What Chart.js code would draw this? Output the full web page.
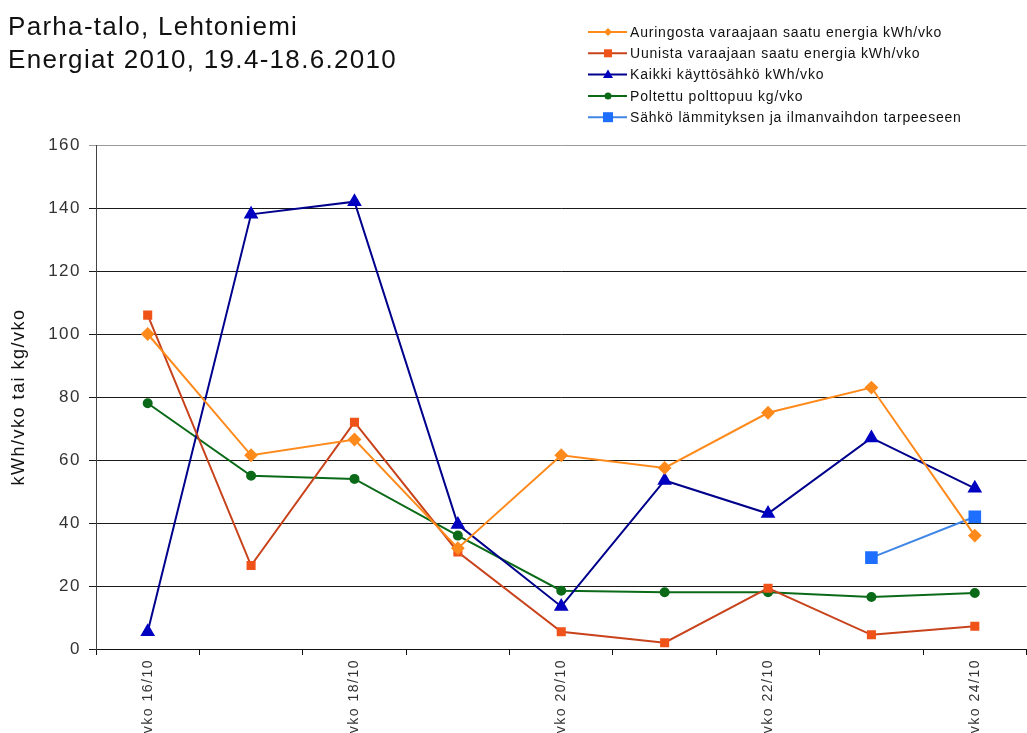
<!DOCTYPE html>
<html>
<head>
<meta charset="utf-8">
<script src="https://cdn.jsdelivr.net/npm/chart.js@4.4.1/dist/chart.umd.min.js"></script>
<style>
  html, body { margin: 0; padding: 0; background: #fff; overflow: hidden; }
  #wrap { position: absolute; left: 0; top: 0; width: 1036px; height: 733px; }
</style>
</head>
<body>
<div id="wrap"><canvas id="energiat" width="1036" height="733"></canvas></div>
<script>
// viikot (joka toinen nimi näkyy akselilla)
const viikot = ['vko 16/10', 'vko 17/10', 'vko 18/10', 'vko 19/10', 'vko 20/10',
                'vko 21/10', 'vko 22/10', 'vko 23/10', 'vko 24/10'];
const aurinko = [100, 61.5, 66.5, 32, 61.5, 57.5, 75, 83, 36];
const uuni = [106, 26.5, 72, 30.8, 5.5, 2, 19.3, 4.5, 7.2];
const kaikkiSahko = [5.5, 138, 142, 39.5, 13.5, 53.5, 43, 67, 51];
const polttopuu = [78, 55, 54, 36, 18.5, 18, 18, 16.5, 17.8];
const lammitysSahko = [null, null, null, null, null, null, null, 29, 42];
const yTicks = [0, 20, 40, 60, 80, 100, 120, 140, 160];

const otsikko = ['Parha-talo, Lehtoniemi', 'Energiat 2010, 19.4-18.6.2010'];

function sarja(nimi, arvot, viiva, pallo, tyyli, koko) {
    return {
        label: nimi,
        data: arvot,
        borderColor: viiva,
        backgroundColor: pallo,
        pointBackgroundColor: pallo,
        pointBorderColor: pallo,
        pointStyle: tyyli,
        pointRadius: koko,
        pointHoverRadius: koko,
        borderWidth: 2,
        tension: 0,
        spanGaps: false
    };
}

// merkki legendaan
function merkki(ctx, tyyli, x, y, r) {
    ctx.beginPath();
    if (tyyli === 'rect') {
        ctx.rect(x - r, y - r, 2 * r, 2 * r);
    } else if (tyyli === 'rectRot') {
        ctx.moveTo(x, y - r); ctx.lineTo(x + r, y); ctx.lineTo(x, y + r); ctx.lineTo(x - r, y);
        ctx.closePath();
    } else if (tyyli === 'triangle') {
        ctx.moveTo(x, y - r); ctx.lineTo(x + r, y + r * 0.7); ctx.lineTo(x - r, y + r * 0.7);
        ctx.closePath();
    } else {
        ctx.arc(x, y, r, 0, Math.PI * 2);
    }
    ctx.fill();
}

const kirjainvali = {
    id: 'kirjainvali',
    beforeLayout(chart) { chart.ctx.letterSpacing = '1.5px'; },
    beforeDraw(chart) { chart.ctx.letterSpacing = '1.5px'; }
};

const otsikkoJaLegenda = {
    id: 'otsikkoJaLegenda',
    afterDraw(chart) {
        const ctx = chart.ctx;
        ctx.save();
        ctx.letterSpacing = '1.3px';
        ctx.fillStyle = '#111';
        ctx.textAlign = 'left';
        ctx.textBaseline = 'alphabetic';
        ctx.font = '26px "Liberation Sans", Arial, sans-serif';
        ctx.fillText(otsikko[0], 8, 35);
        ctx.fillText(otsikko[1], 8, 68);

        ctx.letterSpacing = '0.8px';
        ctx.font = '14px "Liberation Sans", Arial, sans-serif';
        ctx.textBaseline = 'middle';
        const koot = [4, 4, 5, 3.5, 5];
        chart.data.datasets.forEach((ds, i) => {
            const y = 32 + i * 21.3;
            ctx.strokeStyle = ds.borderColor;
            ctx.lineWidth = 2;
            ctx.beginPath();
            ctx.moveTo(588, y);
            ctx.lineTo(627, y);
            ctx.stroke();
            ctx.fillStyle = ds.pointBackgroundColor;
            merkki(ctx, ds.pointStyle, 608, y, koot[i]);
            ctx.fillStyle = '#111';
            ctx.fillText(ds.label, 630, y + 1);
        });
        ctx.restore();
    }
};

const ctx = document.getElementById('energiat').getContext('2d');
const energiaChart = new Chart(ctx, {
    type: 'line',
    data: {
        labels: viikot,
        datasets: [
            sarja('Auringosta varaajaan saatu energia kWh/vko', aurinko, '#FF8A1C', '#FF8A1C', 'rectRot', 5.5),
            sarja('Uunista varaajaan saatu energia kWh/vko', uuni, '#C8431C', '#F0531A', 'rect', 5),
            sarja('Kaikki käyttösähkö kWh/vko', kaikkiSahko, '#00008C', '#0000C0', 'triangle', 6.5),
            sarja('Poltettu polttopuu kg/vko', polttopuu, '#0B6A18', '#0B6A18', 'circle', 4),
            sarja('Sähkö lämmityksen ja ilmanvaihdon tarpeeseen', lammitysSahko, '#3F86E6', '#1E6FFF', 'rect', 7.5)
        ]
    },
    options: {
        responsive: false,
        animation: false,
        layout: { padding: { top: 145, right: 3, left: 0, bottom: 0 } },
        plugins: {
            legend: { display: false },
            title: { display: false },
            tooltip: { enabled: false }
        },
        scales: {
            x: {
                type: 'category',
                offset: true,
                afterFit(scale) { scale.height = 733 - 649; },
                border: { display: true, color: '#111', width: 1 },
                grid: {
                    offset: true,
                    drawOnChartArea: false,
                    drawTicks: true,
                    tickLength: 6,
                    color: '#111'
                },
                ticks: {
                    autoSkip: false,
                    minRotation: 90,
                    maxRotation: 90,
                    padding: 4,
                    color: '#333',
                    font: { family: '"Liberation Sans", Arial, sans-serif', size: 14 },
                    callback: (v, i) => (i % 2 === 0 ? viikot[i] : '')
                }
            },
            y: {
                min: 0,
                max: 160,
                afterBuildTicks(scale) { scale.ticks = yTicks.map(v => ({ value: v })); },
                afterFit(scale) { scale.width = 96; },
                border: { display: true, color: '#444', width: 1 },
                grid: {
                    color: c => (c.tick && c.tick.value === 160 ? '#9a9a9a' : '#1a1a1a'),
                    lineWidth: 1,
                    drawTicks: true,
                    tickLength: 7
                },
                ticks: {
                    padding: 8,
                    color: '#333',
                    font: { family: '"Liberation Sans", Arial, sans-serif', size: 17 }
                },
                title: {
                    display: true,
                    text: 'kWh/vko tai kg/vko',
                    color: '#111',
                    padding: { top: 8, bottom: 0 },
                    font: { family: '"Liberation Sans", Arial, sans-serif', size: 18 }
                }
            }
        }
    },
    plugins: [kirjainvali, otsikkoJaLegenda]
});
</script>
</body>
</html>
